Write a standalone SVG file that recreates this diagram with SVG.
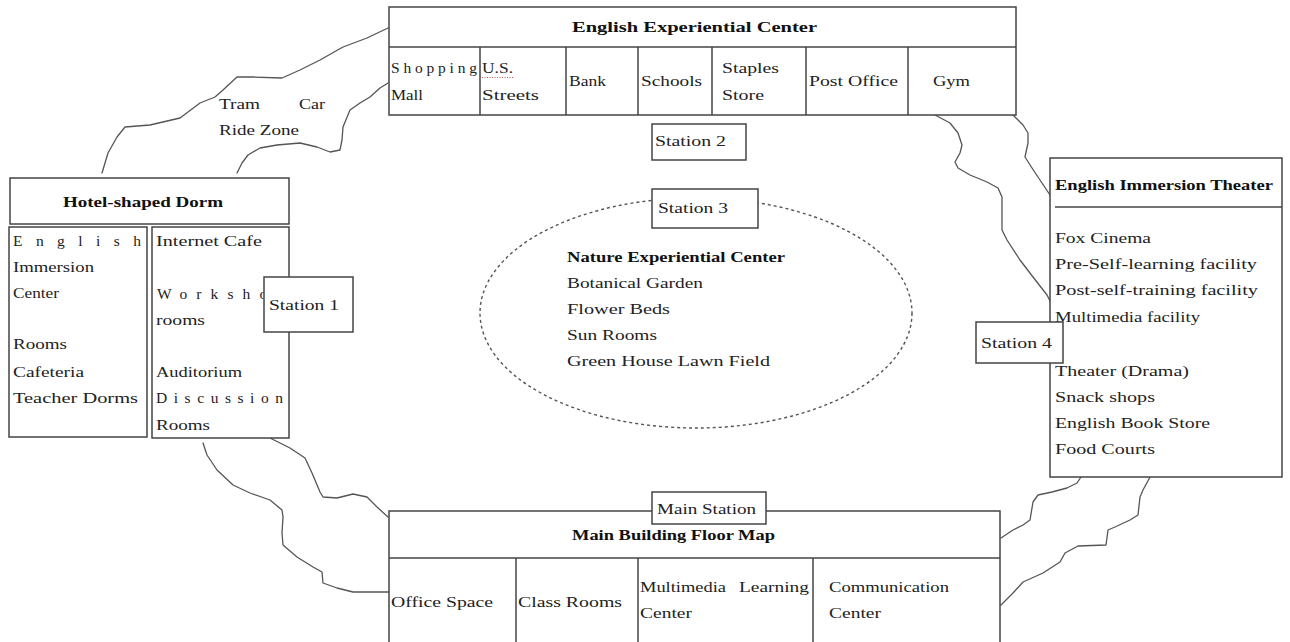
<svg xmlns="http://www.w3.org/2000/svg" width="1290" height="642" viewBox="0 0 1290 642">
<style>
  .box { fill: #fff; stroke: #444; stroke-width: 1.5; }
  .div { stroke: #444; stroke-width: 1.5; fill: none; }
  .conn { fill: none; stroke: #555; stroke-width: 1.3; stroke-linejoin: round; stroke-linecap: round; }
  .ell { fill: none; stroke: #555; stroke-width: 1.4; stroke-dasharray: 3 3; }
  text { font-family: "Liberation Serif", "DejaVu Serif", serif; font-size: 15.5px; fill: #222; }
  .b { font-weight: bold; fill: #111; }
</style>
<rect x="0" y="0" width="1290" height="642" fill="#fff"/>

<g id="connectors">
  <path class="conn" d="M102,173 L108,153 L117,137 L125,127 L150,125 L180,118 L200,103 L215,97 L223,90 L237,77 L253,77 L282,78 L300,70 L320,60 L343,47 L367,38 L388,28"/>
  <path class="conn" d="M237,173 L242,163 L248,155 L260,148 L277,145 L300,143 L317,147 L330,152 L340,150 L342,140 L343,127 L350,110 L360,103 L370,97 L380,88 L388,83"/>
  <path class="conn" d="M270,438 L290,448 L305,458 L312,473 L320,492 L323,497 L337,498 L353,494 L367,497 L377,507 L388,517"/>
  <path class="conn" d="M203,443 L207,455 L217,470 L233,485 L250,493 L270,500 L282,510 L283,517 L282,533 L283,545 L297,557 L313,567 L322,572 L323,583 L337,588 L353,592 L389,592"/>
  <path class="conn" d="M935,115 L950,123 L958,133 L962,145 L960,153 L955,162 L958,168 L970,175 L987,182 L998,188 L1002,197 L1002,210 L1002,230 L1007,240 L1020,260 L1033,277 L1047,295 L1052,305"/>
  <path class="conn" d="M1013,115 L1023,125 L1028,133 L1028,143 L1025,157 L1032,168 L1040,180 L1050,195"/>
  <path class="conn" d="M1081,477 L1077,483 L1067,488 L1052,492 L1038,495 L1033,502 L1030,520 L1023,525 L1013,530 L1001,538"/>
  <path class="conn" d="M1150,477 L1143,490 L1140,497 L1138,515 L1130,520 L1115,527 L1108,530 L1106,545 L1078,546 L1065,553 L1060,562 L1043,573 L1023,582 L1013,593 L1001,605"/>
</g>

<g id="tram-zone">
  <text x="219" y="109" textLength="41" lengthAdjust="spacingAndGlyphs">Tram</text>
  <text x="299" y="109" textLength="26" lengthAdjust="spacingAndGlyphs">Car</text>
  <text x="219" y="135" textLength="80" lengthAdjust="spacingAndGlyphs">Ride Zone</text>
</g>

<g id="english-experiential-center">
  <rect class="box" x="389" y="7" width="627" height="108"/>
  <line class="div" x1="389" y1="47" x2="1016" y2="47"/>
  <line class="div" x1="480" y1="47" x2="480" y2="115"/>
  <line class="div" x1="566" y1="47" x2="566" y2="115"/>
  <line class="div" x1="638" y1="47" x2="638" y2="115"/>
  <line class="div" x1="712" y1="47" x2="712" y2="115"/>
  <line class="div" x1="806" y1="47" x2="806" y2="115"/>
  <line class="div" x1="908" y1="47" x2="908" y2="115"/>
  <text class="b" x="572" y="32" textLength="245" lengthAdjust="spacingAndGlyphs">English Experiential Center</text>
  <text x="391" y="73" textLength="86" lengthAdjust="spacing">Shopping</text>
  <text x="391" y="100" textLength="32" lengthAdjust="spacingAndGlyphs">Mall</text>
  <text x="482" y="73" textLength="31" lengthAdjust="spacingAndGlyphs">U.S.</text>
  <path d="M482,77.5 L513,77.5" stroke="#c55" stroke-width="1" stroke-dasharray="1 1.5" fill="none"/>
  <text x="482" y="100" textLength="57" lengthAdjust="spacingAndGlyphs">Streets</text>
  <text x="569" y="86" textLength="37" lengthAdjust="spacingAndGlyphs">Bank</text>
  <text x="641" y="86" textLength="61" lengthAdjust="spacingAndGlyphs">Schools</text>
  <text x="722" y="73" textLength="57" lengthAdjust="spacingAndGlyphs">Staples</text>
  <text x="722" y="100" textLength="42" lengthAdjust="spacingAndGlyphs">Store</text>
  <text x="809" y="86" textLength="89" lengthAdjust="spacingAndGlyphs">Post Office</text>
  <text x="933" y="86" textLength="37" lengthAdjust="spacingAndGlyphs">Gym</text>
</g>

<g id="station-2">
  <rect class="box" x="652" y="124" width="94" height="36"/>
  <text x="655" y="146" textLength="71" lengthAdjust="spacingAndGlyphs">Station 2</text>
</g>

<g id="hotel-shaped-dorm">
  <rect class="box" x="10" y="178" width="279" height="46"/>
  <text class="b" x="63" y="207" textLength="160" lengthAdjust="spacingAndGlyphs">Hotel-shaped Dorm</text>
  <rect class="box" x="9" y="227" width="138" height="210"/>
  <rect class="box" x="152" y="227" width="137" height="211"/>
  <text x="13" y="246" textLength="128" lengthAdjust="spacing">English</text>
  <text x="13" y="272" textLength="81" lengthAdjust="spacingAndGlyphs">Immersion</text>
  <text x="13" y="298" textLength="46" lengthAdjust="spacingAndGlyphs">Center</text>
  <text x="13" y="349" textLength="54" lengthAdjust="spacingAndGlyphs">Rooms</text>
  <text x="13" y="377" textLength="71" lengthAdjust="spacingAndGlyphs">Cafeteria</text>
  <text x="13" y="403" textLength="125" lengthAdjust="spacingAndGlyphs">Teacher Dorms</text>
  <text x="156" y="246" textLength="106" lengthAdjust="spacingAndGlyphs">Internet Cafe</text>
  <text x="157" y="299" textLength="127" lengthAdjust="spacing">Workshop</text>
  <text x="156" y="325" textLength="49" lengthAdjust="spacingAndGlyphs">rooms</text>
  <text x="156" y="377" textLength="86" lengthAdjust="spacingAndGlyphs">Auditorium</text>
  <text x="156" y="403" textLength="127" lengthAdjust="spacing">Discussion</text>
  <text x="156" y="430" textLength="54" lengthAdjust="spacingAndGlyphs">Rooms</text>
</g>

<g id="station-1">
  <rect class="box" x="264" y="277" width="89" height="55"/>
  <text x="269" y="310" textLength="70" lengthAdjust="spacingAndGlyphs">Station 1</text>
</g>

<g id="nature-experiential-center">
  <ellipse class="ell" cx="696" cy="313" rx="216" ry="115"/>
  <text class="b" x="567" y="262" textLength="218" lengthAdjust="spacingAndGlyphs">Nature Experiential Center</text>
  <text x="567" y="288" textLength="136" lengthAdjust="spacingAndGlyphs">Botanical Garden</text>
  <text x="567" y="314" textLength="103" lengthAdjust="spacingAndGlyphs">Flower Beds</text>
  <text x="567" y="340" textLength="90" lengthAdjust="spacingAndGlyphs">Sun Rooms</text>
  <text x="567" y="366" textLength="203" lengthAdjust="spacingAndGlyphs">Green House Lawn Field</text>
</g>

<g id="station-3">
  <rect class="box" x="652" y="189" width="106" height="39"/>
  <text x="658" y="213" textLength="70" lengthAdjust="spacingAndGlyphs">Station 3</text>
</g>

<g id="english-immersion-theater">
  <rect class="box" x="1050" y="158" width="232" height="319"/>
  <line class="div" x1="1055" y1="207" x2="1282" y2="207"/>
  <text class="b" x="1055" y="190" textLength="218" lengthAdjust="spacingAndGlyphs">English Immersion Theater</text>
  <text x="1055" y="243" textLength="96" lengthAdjust="spacingAndGlyphs">Fox Cinema</text>
  <text x="1055" y="269" textLength="202" lengthAdjust="spacingAndGlyphs">Pre-Self-learning facility</text>
  <text x="1055" y="295" textLength="203" lengthAdjust="spacingAndGlyphs">Post-self-training facility</text>
  <text x="1055" y="322" textLength="145" lengthAdjust="spacingAndGlyphs">Multimedia facility</text>
  <text x="1055" y="376" textLength="134" lengthAdjust="spacingAndGlyphs">Theater (Drama)</text>
  <text x="1055" y="402" textLength="100" lengthAdjust="spacingAndGlyphs">Snack shops</text>
  <text x="1055" y="428" textLength="155" lengthAdjust="spacingAndGlyphs">English Book Store</text>
  <text x="1055" y="454" textLength="100" lengthAdjust="spacingAndGlyphs">Food Courts</text>
</g>

<g id="station-4">
  <rect class="box" x="976" y="322" width="87" height="41"/>
  <text x="981" y="348" textLength="71" lengthAdjust="spacingAndGlyphs">Station 4</text>
</g>

<g id="main-building-floor-map">
  <rect class="box" x="389" y="511" width="611" height="140"/>
  <line class="div" x1="389" y1="558" x2="1000" y2="558"/>
  <line class="div" x1="516" y1="558" x2="516" y2="651"/>
  <line class="div" x1="638" y1="558" x2="638" y2="651"/>
  <line class="div" x1="813" y1="558" x2="813" y2="651"/>
  <text class="b" x="572" y="540" textLength="203" lengthAdjust="spacingAndGlyphs">Main Building Floor Map</text>
  <text x="391" y="607" textLength="102" lengthAdjust="spacingAndGlyphs">Office Space</text>
  <text x="518" y="607" textLength="104" lengthAdjust="spacingAndGlyphs">Class Rooms</text>
  <text x="640" y="592" textLength="86" lengthAdjust="spacingAndGlyphs">Multimedia</text>
  <text x="739" y="592" textLength="70" lengthAdjust="spacingAndGlyphs">Learning</text>
  <text x="640" y="618" textLength="52" lengthAdjust="spacingAndGlyphs">Center</text>
  <text x="829" y="592" textLength="120" lengthAdjust="spacingAndGlyphs">Communication</text>
  <text x="829" y="618" textLength="52" lengthAdjust="spacingAndGlyphs">Center</text>
</g>

<g id="main-station">
  <rect class="box" x="652" y="492" width="114" height="32"/>
  <text x="657" y="514" textLength="99" lengthAdjust="spacingAndGlyphs">Main Station</text>
</g>
</svg>
